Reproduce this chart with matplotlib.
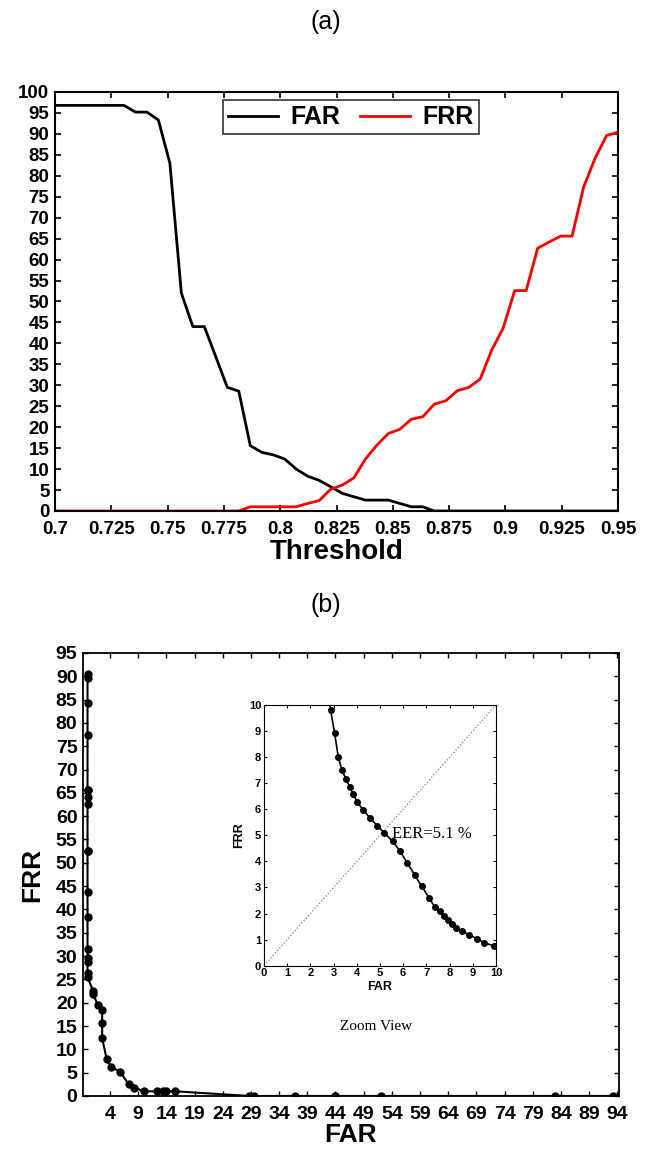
import numpy as np
import matplotlib
matplotlib.use("Agg")
import matplotlib.pyplot as plt

# threshold sweep (50 steps from 0.7 to 0.95)
threshold = [0.7000, 0.7051, 0.7102, 0.7153, 0.7204, 0.7255, 0.7306, 0.7357, 0.7408, 0.7459,
             0.7510, 0.7561, 0.7612, 0.7663, 0.7714, 0.7765, 0.7816, 0.7867, 0.7918, 0.7969,
             0.8020, 0.8071, 0.8122, 0.8173, 0.8224, 0.8276, 0.8327, 0.8378, 0.8429, 0.8480,
             0.8531, 0.8582, 0.8633, 0.8684, 0.8735, 0.8786, 0.8837, 0.8888, 0.8939, 0.8990,
             0.9041, 0.9092, 0.9143, 0.9194, 0.9245, 0.9296, 0.9347, 0.9398, 0.9449, 0.9500]

far = [96.8, 96.8, 96.8, 96.8, 96.8, 96.8, 96.8, 95.2, 95.2, 93.3,
       83.0, 52.0, 44.0, 44.0, 36.8, 29.5, 28.6, 15.6, 14.0, 13.4,
       12.4, 10.0, 8.3, 7.3, 5.8, 4.2, 3.4, 2.6, 2.6, 2.6,
       1.8, 1.0, 1.0, 0, 0, 0, 0, 0, 0, 0,
       0, 0, 0, 0, 0, 0, 0, 0, 0, 0]

frr = [0, 0, 0, 0, 0, 0, 0, 0, 0, 0,
       0, 0, 0, 0, 0, 0, 0, 1.0, 1.0, 1.0,
       1.0, 1.0, 1.8, 2.5, 5.2, 6.2, 7.9, 12.4, 15.7, 18.5,
       19.5, 21.9, 22.5, 25.5, 26.3, 28.7, 29.5, 31.5, 38.4, 43.7,
       52.6, 52.6, 62.7, 64.2, 65.6, 65.6, 77.3, 84.2, 89.6, 90.4]

# zoomed ROC (inset)
inset_far = [2.72, 2.87, 3.04, 3.20, 3.36, 3.53, 3.69, 3.85, 4.02, 4.28, 4.56, 4.88, 5.19,
             5.54, 5.85, 6.17, 6.49, 6.80, 7.12, 7.37, 7.58, 7.75, 7.92, 8.09,
             8.26, 8.52, 8.84, 9.18, 9.50, 9.90]
inset_frr = [11.0, 9.81, 8.94, 8.01, 7.50, 7.17, 6.86, 6.58, 6.28, 5.96, 5.68, 5.37, 5.09,
             4.78, 4.41, 3.95, 3.49, 3.04, 2.60, 2.24, 2.08, 1.92, 1.77, 1.60,
             1.46, 1.32, 1.19, 1.03, 0.88, 0.76]

xticks_a = [0.7, 0.725, 0.75, 0.775, 0.8, 0.825, 0.85, 0.875, 0.9, 0.925, 0.95]
xticks_b = list(range(4, 95, 5))

plt.rcParams["font.family"] = ["Liberation Sans", "DejaVu Sans"]

fig = plt.figure(figsize=(6.52, 11.54), dpi=100)

fig.text(0.5, 1 - 22 / 1154, "(a)", ha="center", va="center", fontsize=18)
fig.text(0.5, 1 - 605 / 1154, "(b)", ha="center", va="center", fontsize=18)

# (a) FAR / FRR vs threshold
ax1 = fig.add_axes([0.0844, 0.5572, 0.8635, 0.3631])
ax1.plot(threshold, far, color="black", lw=2, label="FAR")
ax1.plot(threshold, frr, color="red", lw=2, label="FRR")
ax1.set_xlim(0.7, 0.95)
ax1.set_ylim(0, 100)
ax1.set_xticks(xticks_a)
ax1.set_xticklabels(["%g" % t for t in xticks_a])
ax1.set_yticks(range(0, 101, 5))
ax1.tick_params(direction="in", top=True, right=True, labelsize=13.5, length=4.5, width=1.2)
ax1.tick_params(axis="x", pad=7)
ax1.tick_params(axis="y", pad=4)
for lbl in ax1.get_xticklabels() + ax1.get_yticklabels():
    lbl.set_fontweight("bold")
for s in ax1.spines.values():
    s.set_linewidth(1.5)
ax1.set_xlabel("Threshold", fontsize=20, fontweight="bold", labelpad=1)
leg = ax1.legend(loc="upper center", bbox_to_anchor=(0.525, 0.98), ncol=2,
                 prop={"size": 18, "weight": "bold"}, frameon=True, fancybox=False,
                 edgecolor="black", handlelength=2, columnspacing=0.8, borderpad=0.2,
                 handletextpad=0.5, borderaxespad=0)
leg.get_frame().set_linewidth(1.2)

# (b) ROC curve
ax2 = fig.add_axes([0.1273, 0.0503, 0.822, 0.3839])
ax2.plot(far, frr, color="black", lw=1.5, marker="o", ms=5)
ax2.set_xlim(-0.8, 94.3)
ax2.set_ylim(0, 95)
ax2.set_xticks(xticks_b)
ax2.set_yticks(range(0, 96, 5))
ax2.tick_params(direction="in", top=True, right=True, labelsize=14, length=3.5, width=1)
ax2.tick_params(axis="x", pad=7)
ax2.tick_params(axis="y", pad=4)
for lbl in ax2.get_xticklabels() + ax2.get_yticklabels():
    lbl.set_fontweight("bold")
for s in ax2.spines.values():
    s.set_linewidth(1.3)
ax2.set_xlabel("FAR", fontsize=19, fontweight="bold", labelpad=0)
ax2.set_ylabel("FRR", fontsize=19, fontweight="bold", labelpad=8)

# inset zoom
ax3 = fig.add_axes([0.4049, 0.1632, 0.3558, 0.2259])
ax3.plot([0, 10], [0, 10], color="gray", ls=":", lw=0.9)
ax3.plot(inset_far, inset_frr, color="black", lw=1.2, marker="o", ms=4)
ax3.set_xlim(0, 10)
ax3.set_ylim(0, 10)
ax3.set_xticks(range(0, 11))
ax3.set_yticks(range(0, 11))
ax3.tick_params(direction="in", top=True, right=True, labelsize=8, length=2.5, width=0.8, pad=2)
for lbl in ax3.get_xticklabels() + ax3.get_yticklabels():
    lbl.set_fontweight("bold")
ax3.set_xlabel("FAR", fontsize=9, fontweight="bold", labelpad=2)
ax3.set_ylabel("FRR", fontsize=9, fontweight="bold", labelpad=3)
ax3.text(5.5, 5.05, "EER=5.1 %", family="Liberation Serif", fontsize=12, va="center")

fig.text(376 / 652, 1 - 1027 / 1154, "Zoom View", family="Liberation Serif",
         fontsize=11, ha="center", va="center")

fig.savefig("out.png", dpi=100)
